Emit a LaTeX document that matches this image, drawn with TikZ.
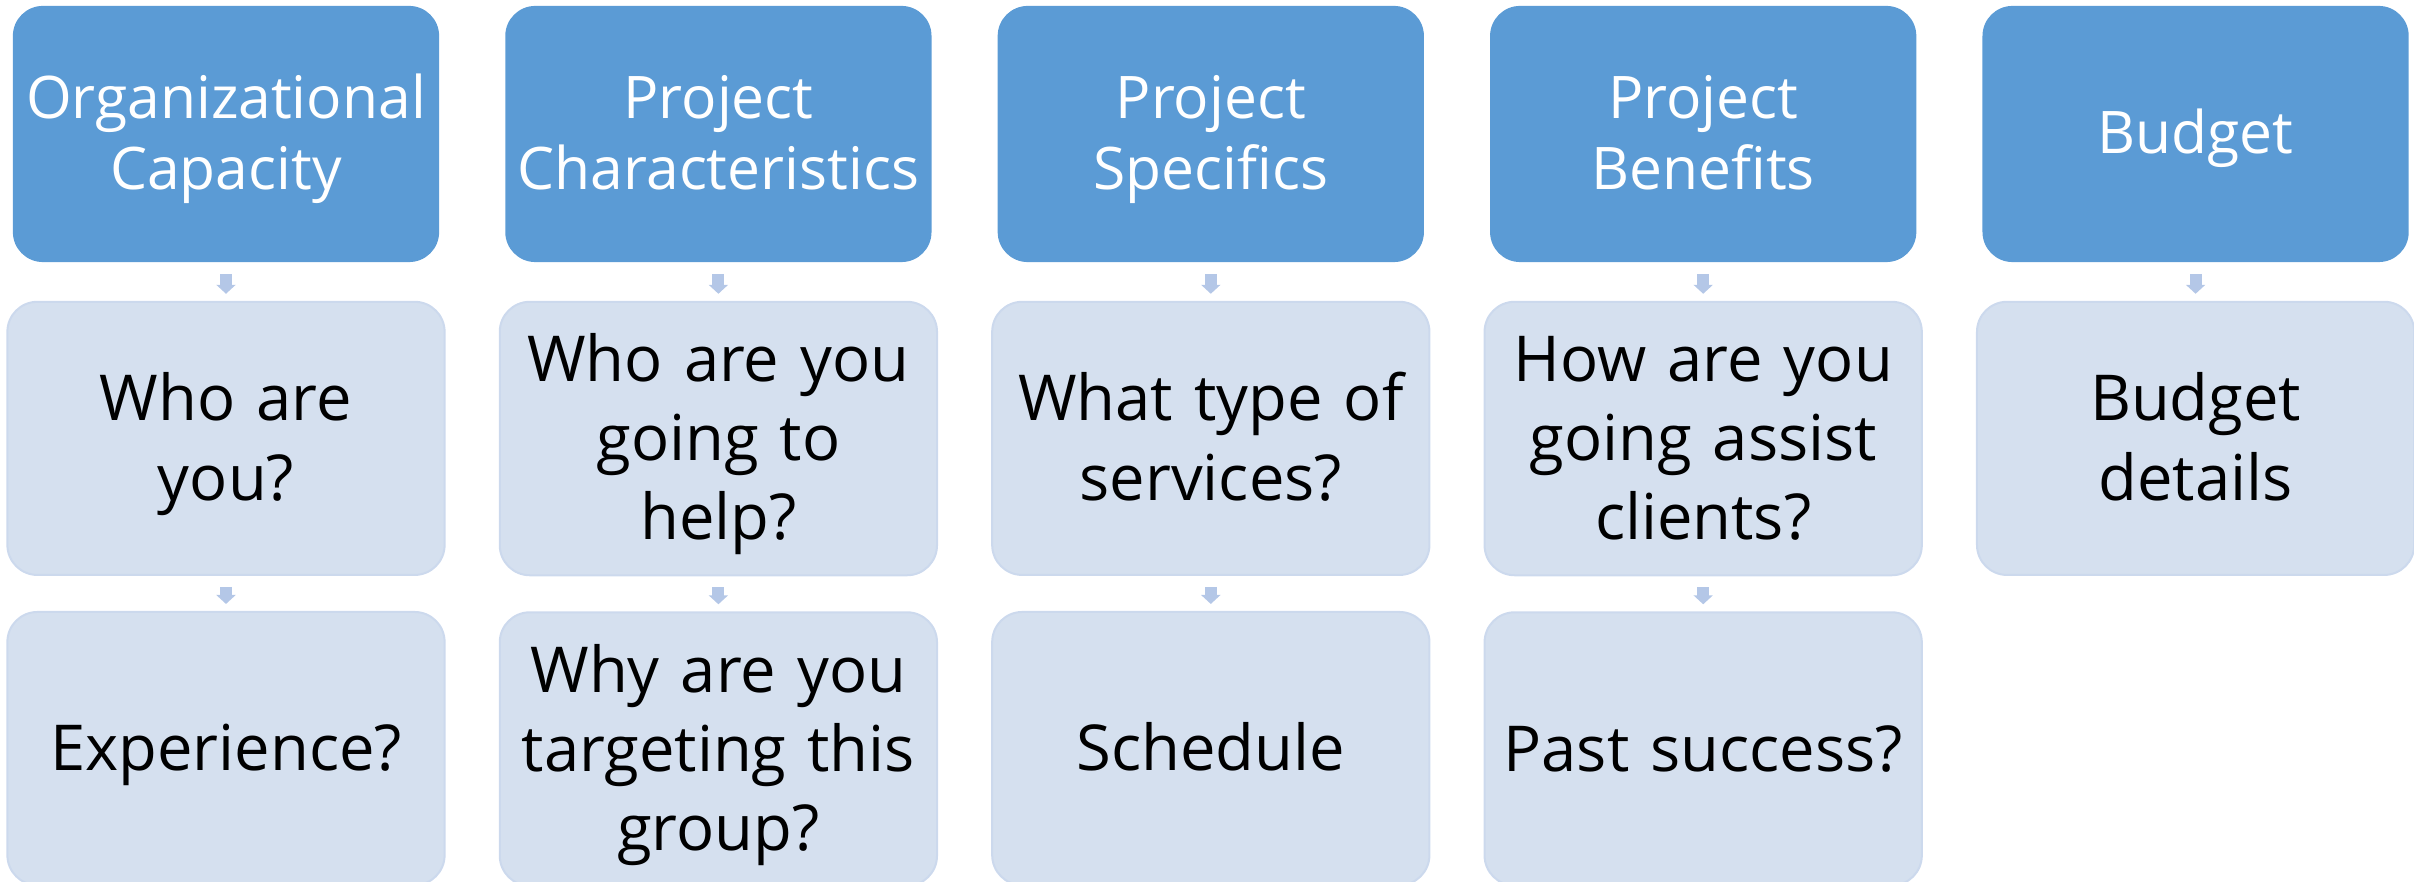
\documentclass[tikz,border=0pt]{standalone}
\usepackage{fontspec}
\setmainfont{Open Sans}
\usepackage{xcolor}
\usetikzlibrary{positioning,arrows.meta}

\definecolor{headblue}{RGB}{91,155,213}
\definecolor{askfill}{RGB}{213,224,239}
\definecolor{askline}{RGB}{204,217,237}
\definecolor{arrowblue}{RGB}{180,199,231}

\newcommand{\topstrut}{\rule{0pt}{0.86\baselineskip}}

\tikzset{
  headbox/.style={fill=headblue, rounded corners=0.3cm, minimum width=4.26cm, minimum height=2.56cm,
    inner xsep=0pt, text=white, text width=4.26cm, align=center, font=\fontsize{16.7}{20.1}\selectfont,
    execute at begin node=\topstrut, execute at end node=\strut},
  askbox/.style={fill=askfill, draw=askline, line width=0.02cm, rounded corners=0.3cm,
    minimum width=4.37cm, minimum height=2.73cm, inner xsep=0pt, text width=4.35cm, align=center,
    font=\fontsize{18}{22.5}\selectfont,
    execute at begin node=\topstrut, execute at end node=\strut},
  flowarrow/.style={arrowblue, line width=0.12cm, shorten <=0.11cm, shorten >=0.07cm,
    -{Triangle[length=0.09cm,width=0.19cm]}}
}

\begin{document}
\begin{tikzpicture}[x=0.01cm,y=0.01cm]
\useasboundingbox (0,0) rectangle (2414,882);

% Headers and first questions
\foreach \i/\head/\ask in {0/{Organizational\\Capacity}/{Who are\\you?},
                          1/{Project\\Characteristics}/{Who are you\\going to\\help?},
                          2/{Project\\Specifics}/{What type of\\services?},
                          3/{Project\\Benefits}/{How are you\\going assist\\clients?},
                          4/{Budget}/{Budget\\details}}{
  \node[headbox] (h\i) at (226+\i*492.4,748) {\head};
  \node[askbox, below=0.38cm of h\i] (q\i) {\ask};
  \draw[flowarrow] (h\i) -- (q\i);
}

% Second questions
\foreach \i/\more in {0/{Experience?},
                     1/{Why are you\\targeting this\\group?},
                     2/{Schedule},
                     3/{Past success?}}{
  \node[askbox, below=0.35cm of q\i] (m\i) {\more};
  \draw[flowarrow] (q\i) -- (m\i);
}

\end{tikzpicture}
\end{document}
